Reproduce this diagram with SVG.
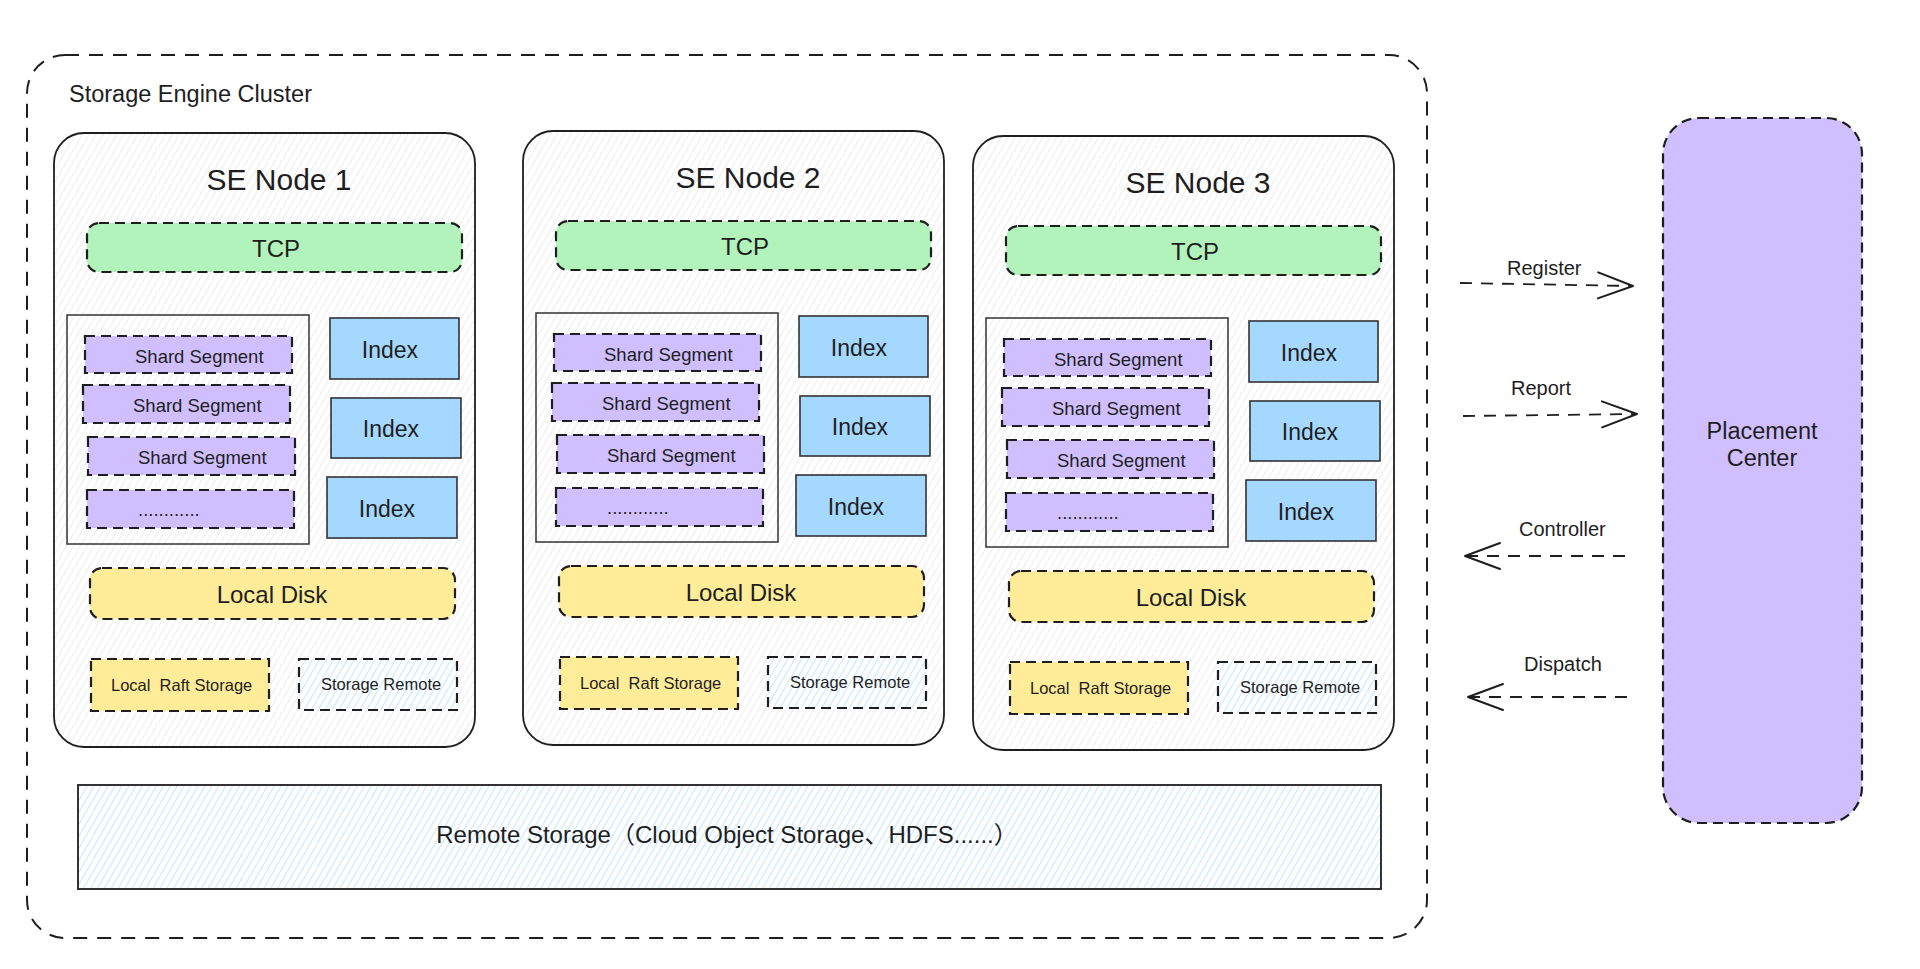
<svg xmlns="http://www.w3.org/2000/svg" width="1920" height="969" viewBox="0 0 1920 969">
<defs>
<pattern id="hatchGray" patternUnits="userSpaceOnUse" width="6" height="6" patternTransform="rotate(30)">
<rect width="6" height="6" fill="#ffffff"/>
<line x1="0" y1="0" x2="0" y2="6" stroke="#e2e2e2" stroke-width="1.2"/>
</pattern>
<pattern id="hatchBlue" patternUnits="userSpaceOnUse" width="6" height="6" patternTransform="rotate(30)">
<rect width="6" height="6" fill="#ffffff"/>
<line x1="0" y1="0" x2="0" y2="6" stroke="#a5d8ff" stroke-width="1.3"/>
</pattern>
<marker id="open" viewBox="0 0 38 30" refX="36" refY="15" markerWidth="38" markerHeight="30" markerUnits="userSpaceOnUse" orient="auto">
<path d="M1,2 L36,15 L1,28" fill="none" stroke="#1e1e1e" stroke-width="2" stroke-linecap="round" stroke-linejoin="round"/>
</marker>
</defs>
<style>
text { font-family: "Liberation Sans", Arial, Helvetica, sans-serif; fill: #1e1e1e; }
.cluster { fill: #ffffff; stroke: #1e1e1e; stroke-width: 2; stroke-dasharray: 14 10; }
.node { fill: url(#hatchGray); stroke: #1e1e1e; stroke-width: 1.8; }
.dash { stroke: #1e1e1e; stroke-width: 2.2; stroke-dasharray: 10 6; }
.tcp { fill: #b2f2bb; }
.seg { fill: #d0bfff; }
.disk { fill: #ffec99; }
.remote { fill: url(#hatchBlue); }
.box { fill: none; stroke: #333333; stroke-width: 1.5; }
.idx { fill: #a5d8ff; stroke: #333333; stroke-width: 1.6; }
.title { font-size: 30px; text-anchor: middle; }
.mid { font-size: 24px; text-anchor: middle; }
.idxt { font-size: 23px; text-anchor: middle; }
.segt { font-size: 18.5px; }
.small { font-size: 16.5px; }
.conn { fill: none; stroke: #1e1e1e; stroke-width: 1.8; stroke-dasharray: 12 9; marker-end: url(#open); }
.lbl { font-size: 20px; }
</style>
<rect x="0" y="0" width="1920" height="969" fill="#ffffff"/>

<g id="cluster">
<rect class="cluster" x="27" y="55" width="1400" height="883" rx="38" ry="38"/>
<text x="69" y="102" style="font-size:23.5px">Storage Engine Cluster</text>
</g>

<g id="se-node-1">
<rect class="node" x="54" y="133" width="421" height="614" rx="30" ry="30"/>
<text class="title" x="279" y="190">SE Node 1</text>
<rect class="tcp dash" x="87" y="223" width="375" height="49" rx="12" ry="12"/>
<text class="mid" x="276" y="257">TCP</text>
<rect class="box" x="67" y="315" width="242" height="229"/>
<rect class="seg dash" x="85" y="336" width="207" height="37"/>
<text class="segt" x="135" y="363">Shard Segment</text>
<rect class="seg dash" x="83" y="385" width="207" height="38"/>
<text class="segt" x="133" y="412">Shard Segment</text>
<rect class="seg dash" x="88" y="437" width="207" height="38"/>
<text class="segt" x="138" y="464">Shard Segment</text>
<rect class="seg dash" x="87" y="490" width="207" height="38"/>
<text class="segt" x="138" y="516">............</text>
<rect class="idx" x="330" y="318" width="129" height="61"/>
<text class="idxt" x="390" y="358">Index</text>
<rect class="idx" x="331" y="398" width="130" height="60"/>
<text class="idxt" x="391" y="437">Index</text>
<rect class="idx" x="327" y="477" width="130" height="61"/>
<text class="idxt" x="387" y="517">Index</text>
<rect class="disk dash" x="90" y="568" width="365" height="51" rx="12" ry="12"/>
<text class="mid" x="272" y="603">Local Disk</text>
<rect class="disk dash" x="91" y="659" width="178" height="52"/>
<text class="small" x="111" y="691" xml:space="preserve">Local  Raft Storage</text>
<rect class="remote dash" x="299" y="659" width="158" height="51"/>
<text class="small" x="321" y="690">Storage Remote</text>
</g>

<g id="se-node-2" transform="translate(469,-2)">
<rect class="node" x="54" y="133" width="421" height="614" rx="30" ry="30"/>
<text class="title" x="279" y="190">SE Node 2</text>
<rect class="tcp dash" x="87" y="223" width="375" height="49" rx="12" ry="12"/>
<text class="mid" x="276" y="257">TCP</text>
<rect class="box" x="67" y="315" width="242" height="229"/>
<rect class="seg dash" x="85" y="336" width="207" height="37"/>
<text class="segt" x="135" y="363">Shard Segment</text>
<rect class="seg dash" x="83" y="385" width="207" height="38"/>
<text class="segt" x="133" y="412">Shard Segment</text>
<rect class="seg dash" x="88" y="437" width="207" height="38"/>
<text class="segt" x="138" y="464">Shard Segment</text>
<rect class="seg dash" x="87" y="490" width="207" height="38"/>
<text class="segt" x="138" y="516">............</text>
<rect class="idx" x="330" y="318" width="129" height="61"/>
<text class="idxt" x="390" y="358">Index</text>
<rect class="idx" x="331" y="398" width="130" height="60"/>
<text class="idxt" x="391" y="437">Index</text>
<rect class="idx" x="327" y="477" width="130" height="61"/>
<text class="idxt" x="387" y="517">Index</text>
<rect class="disk dash" x="90" y="568" width="365" height="51" rx="12" ry="12"/>
<text class="mid" x="272" y="603">Local Disk</text>
<rect class="disk dash" x="91" y="659" width="178" height="52"/>
<text class="small" x="111" y="691" xml:space="preserve">Local  Raft Storage</text>
<rect class="remote dash" x="299" y="659" width="158" height="51"/>
<text class="small" x="321" y="690">Storage Remote</text>
</g>

<g id="se-node-3" transform="translate(919,3)">
<rect class="node" x="54" y="133" width="421" height="614" rx="30" ry="30"/>
<text class="title" x="279" y="190">SE Node 3</text>
<rect class="tcp dash" x="87" y="223" width="375" height="49" rx="12" ry="12"/>
<text class="mid" x="276" y="257">TCP</text>
<rect class="box" x="67" y="315" width="242" height="229"/>
<rect class="seg dash" x="85" y="336" width="207" height="37"/>
<text class="segt" x="135" y="363">Shard Segment</text>
<rect class="seg dash" x="83" y="385" width="207" height="38"/>
<text class="segt" x="133" y="412">Shard Segment</text>
<rect class="seg dash" x="88" y="437" width="207" height="38"/>
<text class="segt" x="138" y="464">Shard Segment</text>
<rect class="seg dash" x="87" y="490" width="207" height="38"/>
<text class="segt" x="138" y="516">............</text>
<rect class="idx" x="330" y="318" width="129" height="61"/>
<text class="idxt" x="390" y="358">Index</text>
<rect class="idx" x="331" y="398" width="130" height="60"/>
<text class="idxt" x="391" y="437">Index</text>
<rect class="idx" x="327" y="477" width="130" height="61"/>
<text class="idxt" x="387" y="517">Index</text>
<rect class="disk dash" x="90" y="568" width="365" height="51" rx="12" ry="12"/>
<text class="mid" x="272" y="603">Local Disk</text>
<rect class="disk dash" x="91" y="659" width="178" height="52"/>
<text class="small" x="111" y="691" xml:space="preserve">Local  Raft Storage</text>
<rect class="remote dash" x="299" y="659" width="158" height="51"/>
<text class="small" x="321" y="690">Storage Remote</text>
</g>

<g id="remote-storage">
<rect x="78" y="785" width="1303" height="104" fill="url(#hatchBlue)" stroke="#333333" stroke-width="2"/>
<text x="727" y="843" style="font-size:24px;text-anchor:middle;font-family:'Liberation Sans','Noto Sans CJK SC',sans-serif">Remote Storage（Cloud Object Storage、HDFS......）</text>
</g>

<g id="placement-center">
<rect class="dash" x="1663" y="118" width="199" height="705" rx="36" ry="36" fill="#d0bfff"/>
<text x="1762" y="439" style="font-size:23.5px;text-anchor:middle">Placement</text>
<text x="1762" y="466" style="font-size:23.5px;text-anchor:middle">Center</text>
</g>

<g id="connectors">
<path class="conn" d="M1460,283 L1633,286"/>
<path class="conn" d="M1463,416 L1637,414"/>
<path class="conn" d="M1625,556 L1465,556"/>
<path class="conn" d="M1627,697 L1468,697"/>
<text class="lbl" x="1507" y="275">Register</text>
<text class="lbl" x="1511" y="395">Report</text>
<text class="lbl" x="1519" y="536">Controller</text>
<text class="lbl" x="1524" y="671">Dispatch</text>
</g>
</svg>
